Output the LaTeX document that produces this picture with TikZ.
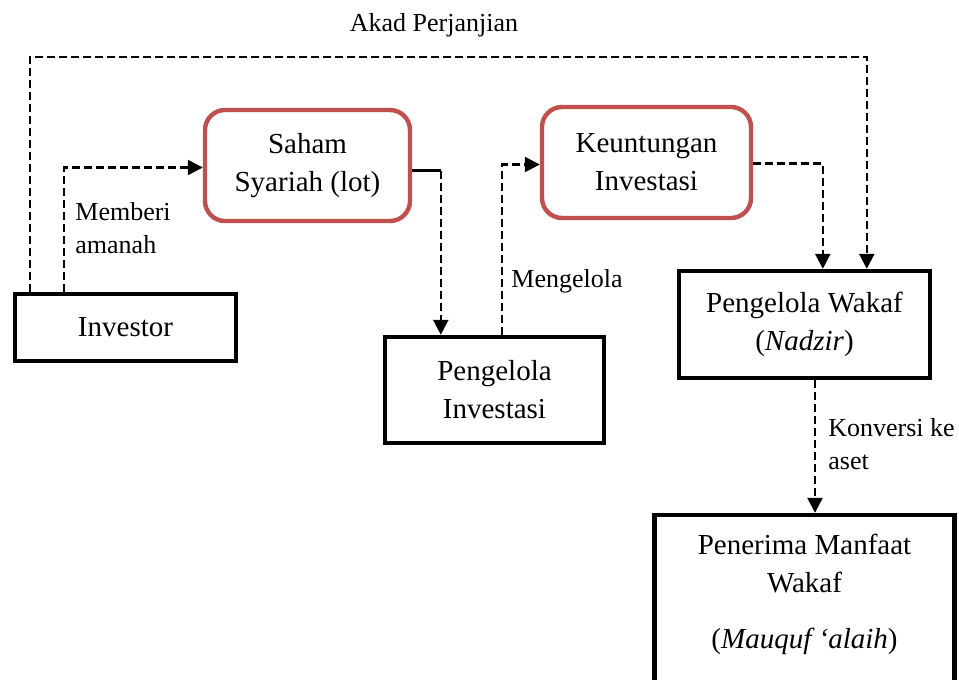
\documentclass[tikz,border=0pt]{standalone}
\usepackage{fontspec}
\setmainfont{Liberation Serif}
\usetikzlibrary{arrows.meta,calc}
\definecolor{boxred}{HTML}{C0504D}
\begin{document}
\begin{tikzpicture}[x=0.5pt,y=-0.5pt,
	txt/.style={align=center,font=\fontsize{14.5}{19}\selectfont},
	mainbox/.style={txt,draw,line width=2.2pt},
	roundbox/.style={mainbox,draw=boxred,rounded corners=10pt},
	note/.style={align=left,inner sep=0pt,font=\fontsize{13}{16.5}\selectfont},
	flow/.style={line width=1.2pt,dash pattern=on 4pt off 2pt,-{Triangle[length=7.5pt,width=7.5pt]}}]
	\path [use as bounding box,clip] (0,0) rectangle (959,680);
	% Boxes
	\node [mainbox,minimum width=110.5pt,minimum height=33.5pt] (inv) at (125.5,327.5) {Investor};
	\node [roundbox,minimum width=102.5pt,minimum height=55.5pt] (saham) at (307.5,165.5) {Saham\\Syariah (lot)};
	\node [mainbox,minimum width=109.5pt,minimum height=53pt] (pinv) at (494.5,390) {Pengelola\\Investasi};
	\node [roundbox,minimum width=104.5pt,minimum height=55.5pt] (untung) at (646.5,162.5) {Keuntungan\\Investasi};
	\node [mainbox,minimum width=125.5pt,minimum height=53.5pt] (wakaf) at (804.5,324.5) {Pengelola Wakaf\\(\textit{Nadzir})};
	\node [mainbox,minimum width=150pt,minimum height=92.5pt] (terima) at (804.5,607.5) {};
	\node [txt,anchor=north,inner sep=0pt] (terimatxt) at (804.5,534) {Penerima Manfaat\\Wakaf\\[9pt](\textit{Mauquf ‘alaih})};
	% Akad Perjanjian
	\coordinate (akad) at (434,57);
	\draw [flow] ($(inv.north west)+(17,0)$) |- (akad) -| ($(wakaf.north west)+(190,0)$);
	\node [note,anchor=base] (akadlbl) at (434,32) {Akad Perjanjian};
	% Memberi amanah
	\draw [flow] ($(inv.north west)+(51,0)$) |- ($(saham.west)+(0,2)$);
	\node [note,anchor=west] (memberi) at (75,228) {Memberi\\amanah};
	% Saham ke pengelola investasi
	\coordinate (sout) at ($(saham.east)+(0,5)$);
	\coordinate (pin) at ($(pinv.north west)+(58,0)$);
	\draw [line width=1.2pt] (sout) -- (sout -| pin);
	\draw [flow] (sout -| pin) -- (pin);
	% Mengelola
	\draw [flow] ($(pinv.north west)+(119,0)$) |- ($(untung.west)+(0,2)$);
	\node [note,anchor=west] (kelola) at (511,281) {Mengelola};
	% Keuntungan ke nadzir
	\draw [flow] ($(untung.east)+(0,1)$) -| ($(wakaf.north west)+(146,0)$);
	% Konversi ke aset
	\coordinate (wout) at ($(wakaf.south)+(10.5,0)$);
	\draw [flow] (wout) -- (wout |- terima.north);
	\node [note,anchor=west] (konversi) at (828,444) {Konversi ke\\aset};
\end{tikzpicture}
\end{document}
